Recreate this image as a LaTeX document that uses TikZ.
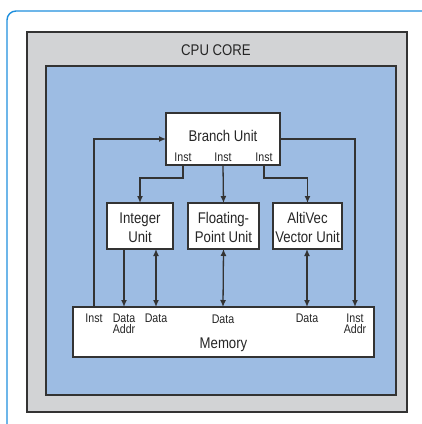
\documentclass[tikz,border=0pt]{standalone}
\usepackage{fontspec}
\setmainfont{Liberation Sans}[FakeStretch=0.85]
\usetikzlibrary{arrows.meta}
\definecolor{framecol}{HTML}{1E8FDD}
\definecolor{coregray}{HTML}{D2D3D5}
\definecolor{coreblue}{HTML}{9DBCE3}
\definecolor{linecol}{HTML}{333333}
\tikzset{
  every node/.style={inner sep=0pt, outer sep=0pt},
  unitbox/.style={draw=linecol, fill=white, line width=1.3pt, minimum width=#1, minimum height=46pt},
  bigtxt/.style={font=\fontsize{15.5}{17}\selectfont, anchor=base, text=black!85},
  smalltxt/.style={font=\fontsize{12.5}{13}\selectfont, anchor=base, text=black!85},
  conn/.style={draw=linecol, line width=1.3pt},
  tip/.style={-{Latex[length=7pt,width=6pt]}},
  dtip/.style={{Latex[length=7pt,width=6pt]}-{Latex[length=7pt,width=6pt]}},
}
\begin{document}
\begin{tikzpicture}[x=1pt,y=-1pt]
\useasboundingbox (0,0) rectangle (422,424);
% outer frame
\draw[framecol, line width=1.4pt] (7,430) -- (7,20) arc[start angle=180, end angle=270, radius=9] -- (430,11);
% core
\node[draw=linecol, fill=coregray, line width=1.3pt, minimum width=380pt, minimum height=380pt] (core) at (217,222) {};
\node[bigtxt] (coretitle) at (216,55) {CPU CORE};
\node[draw=linecol, fill=coreblue, line width=1.3pt, minimum width=350pt, minimum height=329pt] (inner) at (221,230.5) {};
% units
\node[unitbox=114pt, minimum height=52pt] (branch) at (223,139) {};
\node[bigtxt] (branchtxt) at (223,141) {Branch Unit};
\node[smalltxt] (bi1) at (183,161) {Inst};
\node[smalltxt] (bi2) at (223,161) {Inst};
\node[smalltxt] (bi3) at (264,161) {Inst};
\node[unitbox=66pt] (intu) at (140,226) {};
\node[unitbox=71pt] (fpu) at (223.5,226) {};
\node[unitbox=69pt] (vec) at (307.5,226) {};
\node[bigtxt] (intt1) at (140,223) {Integer};
\node[bigtxt] (intt2) at (140,242) {Unit};
\node[bigtxt] (fpt1) at (223.5,223) {Floating-};
\node[bigtxt] (fpt2) at (223.5,242) {Point Unit};
\node[bigtxt] (vect1) at (307.5,223) {AltiVec};
\node[bigtxt] (vect2) at (307.5,242) {Vector Unit};
% memory
\node[unitbox=301pt, minimum height=50pt] (mem) at (223.5,332) {};
\node[smalltxt] (mi) at (94,322) {Inst};
\node[smalltxt] (mda1) at (124,322) {Data};
\node[smalltxt] (mda2) at (124,333) {Addr};
\node[smalltxt] (md1) at (156,322) {Data};
\node[smalltxt] (md2) at (223,323) {Data};
\node[smalltxt] (md3) at (307,322) {Data};
\node[smalltxt] (mia1) at (355,322) {Inst};
\node[smalltxt] (mia2) at (355,333) {Addr};
\node[bigtxt] (memtxt) at (223.5,348) {Memory};
% connectors from branch unit
\draw[conn, tip] (bi1 |- branch.south) -- ++(0,13) -| (intu.north);
\draw[conn, tip] (bi2 |- branch.south) -- (fpu.north);
\draw[conn, tip] (bi3 |- branch.south) -- ++(0,13) -| (vec.north);
% memory connections
\draw[conn, tip] (mi |- mem.north) |- (branch.west);
\draw[conn, tip] (branch.east) -| (mia1 |- mem.north);
\draw[conn, tip] (mda1 |- intu.south) -- (mda1 |- mem.north);
\draw[conn, dtip] (md1 |- intu.south) -- (md1 |- mem.north);
\draw[conn, dtip] (fpu.south) -- (md2 |- mem.north);
\draw[conn, dtip] (md3 |- vec.south) -- (md3 |- mem.north);
\end{tikzpicture}
\end{document}
